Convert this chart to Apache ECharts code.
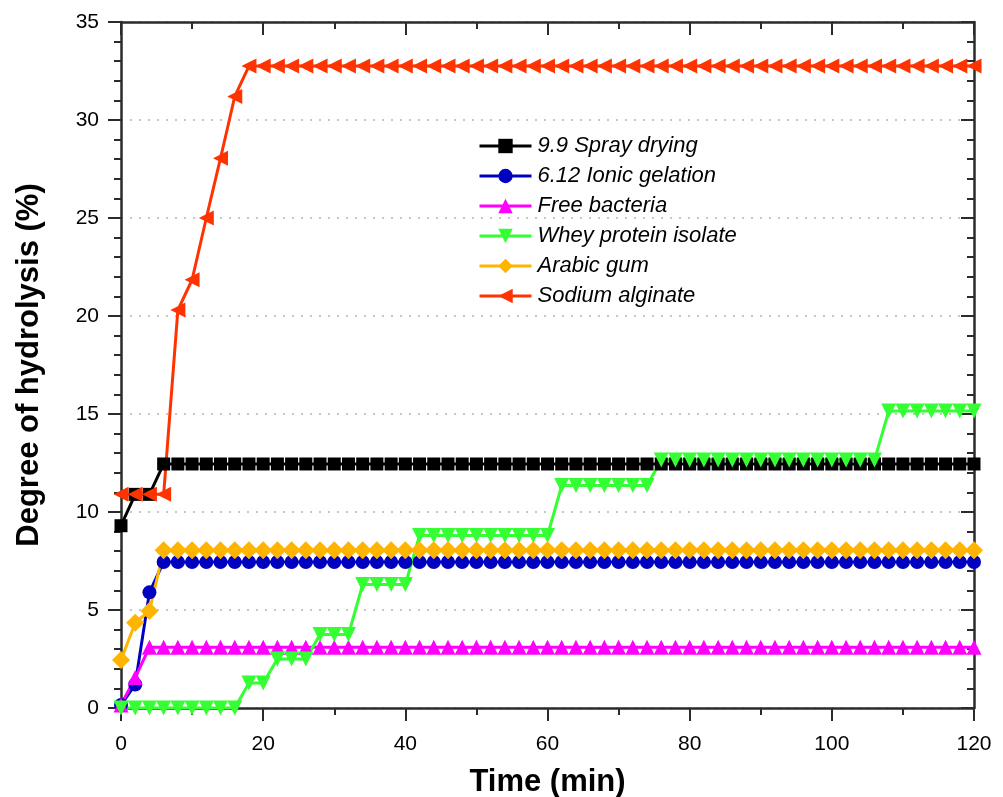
<!DOCTYPE html>
<html>
<head>
<meta charset="utf-8">
<script src="https://cdn.jsdelivr.net/npm/echarts@6/dist/echarts.min.js"></script>
<style>
    html, body { margin: 0; padding: 0; background: #ffffff; }
    #chart { width: 1003px; height: 797px; }
</style>
</head>
<body>
<div id="chart"></div>
<script>
const time = [0, 2, 4, 6, 8, 10, 12, 14, 16, 18, 20, 22, 24, 26, 28, 30, 32, 34, 36, 38, 40,
    42, 44, 46, 48, 50, 52, 54, 56, 58, 60, 62, 64, 66, 68, 70, 72, 74, 76, 78, 80,
    82, 84, 86, 88, 90, 92, 94, 96, 98, 100, 102, 104, 106, 108, 110, 112, 114, 116, 118, 120];

const sprayDrying = [9.3, 10.9, 10.9, 12.45, 12.45, 12.45, 12.45, 12.45, 12.45, 12.45, 12.45,
    12.45, 12.45, 12.45, 12.45, 12.45, 12.45, 12.45, 12.45, 12.45, 12.45,
    12.45, 12.45, 12.45, 12.45, 12.45, 12.45, 12.45, 12.45, 12.45, 12.45,
    12.45, 12.45, 12.45, 12.45, 12.45, 12.45, 12.45, 12.45, 12.45, 12.45,
    12.45, 12.45, 12.45, 12.45, 12.45, 12.45, 12.45, 12.45, 12.45, 12.45,
    12.45, 12.45, 12.45, 12.45, 12.45, 12.45, 12.45, 12.45, 12.45, 12.45];

const ionicGelation = [0.15, 1.2, 5.9, 7.45, 7.45, 7.45, 7.45, 7.45, 7.45, 7.45, 7.45,
    7.45, 7.45, 7.45, 7.45, 7.45, 7.45, 7.45, 7.45, 7.45, 7.45,
    7.45, 7.45, 7.45, 7.45, 7.45, 7.45, 7.45, 7.45, 7.45, 7.45,
    7.45, 7.45, 7.45, 7.45, 7.45, 7.45, 7.45, 7.45, 7.45, 7.45,
    7.45, 7.45, 7.45, 7.45, 7.45, 7.45, 7.45, 7.45, 7.45, 7.45,
    7.45, 7.45, 7.45, 7.45, 7.45, 7.45, 7.45, 7.45, 7.45, 7.45];

const freeBacteria = [0.15, 1.55, 3.1, 3.1, 3.1, 3.1, 3.1, 3.1, 3.1, 3.1, 3.1,
    3.1, 3.1, 3.1, 3.1, 3.1, 3.1, 3.1, 3.1, 3.1, 3.1,
    3.1, 3.1, 3.1, 3.1, 3.1, 3.1, 3.1, 3.1, 3.1, 3.1,
    3.1, 3.1, 3.1, 3.1, 3.1, 3.1, 3.1, 3.1, 3.1, 3.1,
    3.1, 3.1, 3.1, 3.1, 3.1, 3.1, 3.1, 3.1, 3.1, 3.1,
    3.1, 3.1, 3.1, 3.1, 3.1, 3.1, 3.1, 3.1, 3.1, 3.1];

const wheyProtein = [0, 0, 0, 0, 0, 0, 0, 0, 0, 1.27, 1.27,
    2.5, 2.5, 2.5, 3.75, 3.75, 3.75, 6.3, 6.3, 6.3, 6.3,
    8.8, 8.8, 8.8, 8.8, 8.8, 8.8, 8.8, 8.8, 8.8, 8.8,
    11.35, 11.35, 11.35, 11.35, 11.35, 11.35, 11.35, 12.65, 12.65, 12.65,
    12.65, 12.65, 12.65, 12.65, 12.65, 12.65, 12.65, 12.65, 12.65, 12.65,
    12.65, 12.65, 12.65, 15.15, 15.15, 15.15, 15.15, 15.15, 15.15, 15.15];

const arabicGum = [2.45, 4.35, 4.95, 8.05, 8.05, 8.05, 8.05, 8.05, 8.05, 8.05, 8.05,
    8.05, 8.05, 8.05, 8.05, 8.05, 8.05, 8.05, 8.05, 8.05, 8.05,
    8.05, 8.05, 8.05, 8.05, 8.05, 8.05, 8.05, 8.05, 8.05, 8.05,
    8.05, 8.05, 8.05, 8.05, 8.05, 8.05, 8.05, 8.05, 8.05, 8.05,
    8.05, 8.05, 8.05, 8.05, 8.05, 8.05, 8.05, 8.05, 8.05, 8.05,
    8.05, 8.05, 8.05, 8.05, 8.05, 8.05, 8.05, 8.05, 8.05, 8.05];

const sodiumAlginate = [10.9, 10.9, 10.9, 10.9, 20.3, 21.85, 25.0, 28.05, 31.2, 32.75, 32.75,
    32.75, 32.75, 32.75, 32.75, 32.75, 32.75, 32.75, 32.75, 32.75, 32.75,
    32.75, 32.75, 32.75, 32.75, 32.75, 32.75, 32.75, 32.75, 32.75, 32.75,
    32.75, 32.75, 32.75, 32.75, 32.75, 32.75, 32.75, 32.75, 32.75, 32.75,
    32.75, 32.75, 32.75, 32.75, 32.75, 32.75, 32.75, 32.75, 32.75, 32.75,
    32.75, 32.75, 32.75, 32.75, 32.75, 32.75, 32.75, 32.75, 32.75, 32.75];

const seriesNames = ["9.9 Spray drying", "6.12 Ionic gelation", "Free bacteria",
    "Whey protein isolate", "Arabic gum", "Sodium alginate"];

const font = "Arial, 'Liberation Sans', sans-serif";
const axisColor = "#2b2b2b";

function pairs(values) {
    return values.map((v, i) => [time[i], v]);
}

function lineSeries(name, values, color, symbol, size, rotate) {
    return {
        name,
        type: "line",
        xAxisIndex: 0,
        yAxisIndex: 0,
        data: pairs(values),
        symbol,
        symbolSize: size,
        symbolRotate: rotate,
        showAllSymbol: true,
        animation: false,
        lineStyle: { color, width: 3 },
        itemStyle: { color, borderWidth: 0 }
    };
}

function mirrorAxis(base) {
    return Object.assign({}, base, {
        axisLabel: { show: false },
        splitLine: { show: false },
        axisTick: { show: true, inside: true, length: 13, lineStyle: { color: axisColor, width: 2 } },
        minorTick: Object.assign({}, base.minorTick),
        name: ""
    });
}

const xBase = {
    type: "value",
    min: 0,
    max: 120,
    interval: 20,
    axisLine: { show: true, onZero: false, lineStyle: { color: axisColor, width: 2.5 } },
    axisTick: { show: true, length: 13, lineStyle: { color: axisColor, width: 2 } },
    minorTick: { show: true, splitNumber: 2, length: 7, lineStyle: { color: axisColor, width: 2 } },
    axisLabel: { color: "#000", fontSize: 21, fontFamily: font, margin: 26 },
    splitLine: { show: false },
    name: "Time (min)",
    nameLocation: "middle",
    nameGap: 59,
    nameTextStyle: { color: "#000", fontSize: 31, fontWeight: "bold", fontFamily: font }
};

const yBase = {
    type: "value",
    min: 0,
    max: 35,
    interval: 5,
    axisLine: { show: true, onZero: false, lineStyle: { color: axisColor, width: 2.5 } },
    axisTick: { show: true, length: 13, lineStyle: { color: axisColor, width: 2 } },
    minorTick: { show: true, splitNumber: 5, length: 7, lineStyle: { color: axisColor, width: 2 } },
    axisLabel: { color: "#000", fontSize: 21, fontFamily: font, margin: 22 },
    splitLine: {
        show: true,
        lineStyle: { color: "#b4b4b4", width: 1.5, type: [2, 7] }
    },
    name: "Degree of hydrolysis (%)",
    nameLocation: "middle",
    nameGap: 76,
    nameTextStyle: { color: "#000", fontSize: 31, fontWeight: "bold", fontFamily: font }
};

const chart = echarts.init(document.getElementById("chart"), null, { renderer: "canvas" });

chart.setOption({
    backgroundColor: "#ffffff",
    animation: false,
    grid: { left: 121, right: 29, top: 22, bottom: 89, containLabel: false, outerBoundsMode: "none" },
    legend: {
        orient: "vertical",
        left: 473,
        top: 130,
        itemWidth: 52,
        itemHeight: 18,
        itemGap: 8,
        data: seriesNames,
        lineStyle: { width: 3 },
        textStyle: { color: "#000", fontSize: 22, fontStyle: "italic", fontFamily: font, padding: [0, 0, 0, 1] }
    },
    xAxis: [
        Object.assign({}, xBase, { position: "bottom" }),
        Object.assign(mirrorAxis(xBase), { position: "top" })
    ],
    yAxis: [
        Object.assign({}, yBase, { position: "left" }),
        Object.assign(mirrorAxis(yBase), { position: "right" })
    ],
    series: [
        lineSeries(seriesNames[0], sprayDrying, "#000000", "rect", 13, 0),
        lineSeries(seriesNames[1], ionicGelation, "#0000c0", "circle", 14, 0),
        lineSeries(seriesNames[2], freeBacteria, "#ff00ff", "triangle", 15, 0),
        lineSeries(seriesNames[3], wheyProtein, "#33ff33", "triangle", 15, 180),
        lineSeries(seriesNames[4], arabicGum, "#ffb400", "diamond", 18, 0),
        lineSeries(seriesNames[5], sodiumAlginate, "#ff3300", "triangle", 15, 90)
    ]
});
</script>
</body>
</html>
